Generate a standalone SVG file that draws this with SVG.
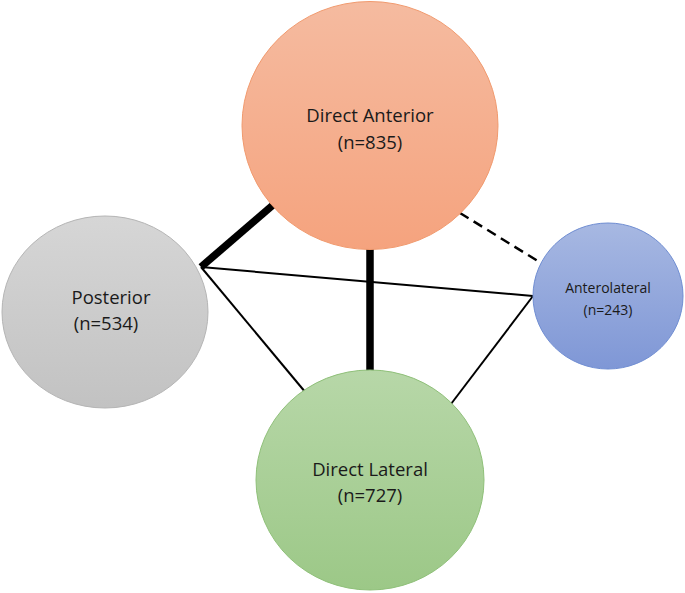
<svg xmlns="http://www.w3.org/2000/svg" width="685" height="593" viewBox="0 0 685 593">
<defs>
<linearGradient id="gOrange" x1="0" y1="0" x2="0" y2="1"><stop offset="0" stop-color="#F5BBA0"/><stop offset="1" stop-color="#F5A37E"/></linearGradient>
<linearGradient id="gGray" x1="0" y1="0" x2="0" y2="1"><stop offset="0" stop-color="#D6D6D6"/><stop offset="1" stop-color="#C2C2C2"/></linearGradient>
<linearGradient id="gBlue" x1="0" y1="0" x2="0" y2="1"><stop offset="0" stop-color="#A7B8E2"/><stop offset="1" stop-color="#7F97D6"/></linearGradient>
<linearGradient id="gGreen" x1="0" y1="0" x2="0" y2="1"><stop offset="0" stop-color="#B7D7A8"/><stop offset="1" stop-color="#9CC887"/></linearGradient>
</defs>
<style>
text{font-family:"Open Sans","Liberation Sans",sans-serif;fill:#1a1a1a;text-anchor:middle}
.big{font-size:18.5px}
.small{font-size:14px}
.thin{stroke:#000;stroke-width:2;fill:none}
.thick{stroke:#000;stroke-width:7.5;fill:none}
.dash{stroke:#000;stroke-width:2.5;stroke-dasharray:10 6;fill:none}
</style>
<rect width="685" height="593" fill="#fff"/>
<g id="connectors">
<line class="thick" x1="201" y1="267" x2="273" y2="205"/>
<line class="thick" x1="370" y1="245" x2="370" y2="373"/>
<line class="thin" x1="201" y1="267" x2="533" y2="296"/>
<line class="thin" x1="201" y1="267" x2="306" y2="393"/>
<line class="thin" x1="533" y1="296" x2="451" y2="404"/>
<line class="dash" x1="460" y1="213" x2="541" y2="263"/>
</g>
<g id="direct-anterior">
<ellipse cx="370" cy="125.5" rx="128" ry="124" fill="url(#gOrange)" stroke="#F19A6E" stroke-width="1"/>
<text class="big" x="370" y="122">Direct Anterior</text>
<text class="big" x="370" y="149">(n=835)</text>
</g>
<g id="posterior">
<ellipse cx="105" cy="312" rx="103" ry="96" fill="url(#gGray)" stroke="#B5B5B5" stroke-width="1"/>
<text class="big" x="111" y="304">Posterior</text>
<text class="big" x="106" y="330">(n=534)</text>
</g>
<g id="anterolateral">
<ellipse cx="608" cy="296" rx="75" ry="73" fill="url(#gBlue)" stroke="#6F8DD2" stroke-width="1"/>
<text class="small" x="608" y="293">Anterolateral</text>
<text class="small" x="608" y="315">(n=243)</text>
</g>
<g id="direct-lateral">
<ellipse cx="370" cy="480" rx="114" ry="110" fill="url(#gGreen)" stroke="#8FC079" stroke-width="1"/>
<text class="big" x="370" y="476">Direct Lateral</text>
<text class="big" x="370" y="502">(n=727)</text>
</g>
</svg>
